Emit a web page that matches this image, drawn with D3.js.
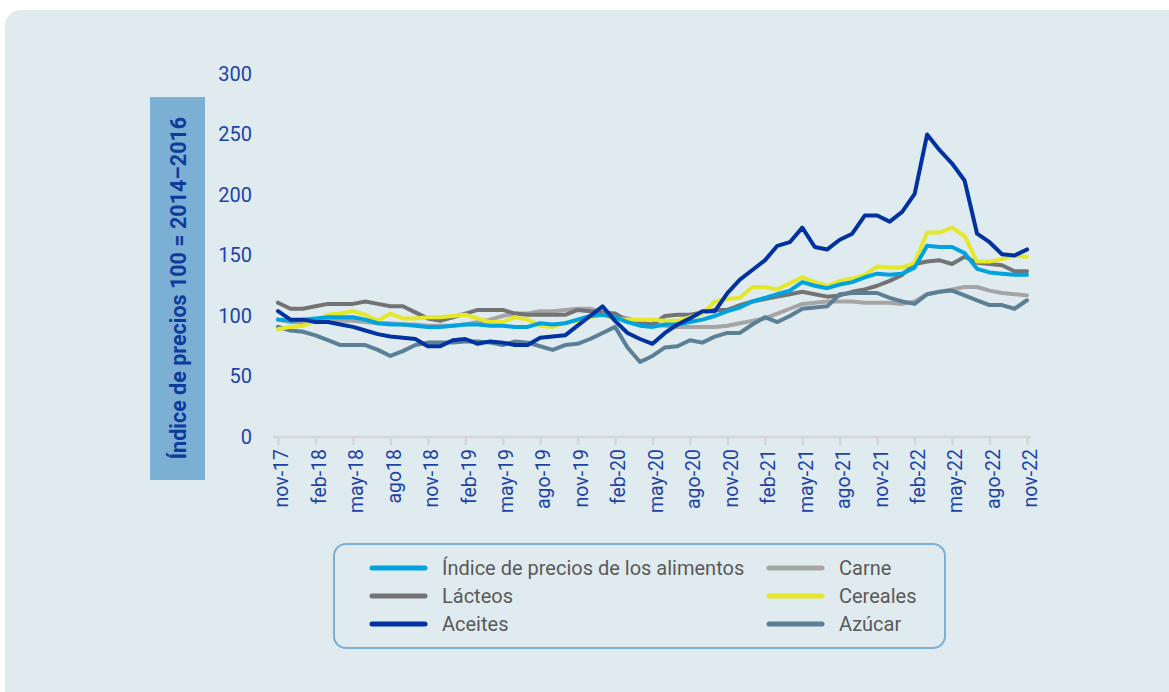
<!DOCTYPE html>
<html>
<head>
<meta charset="utf-8">
<script src="https://cdn.jsdelivr.net/npm/d3@7"></script>
<style>
  body { margin: 0; background: #ffffff; }
  svg { display: block; }
  text { font-family: Roboto, "Noto Sans", sans-serif; }
</style>
</head>
<body>
<div id="chart-area"></div>
<script>
// monthly categories nov-17 .. nov-22
const months = ["nov-17","dic-17","ene-18","feb-18","mar-18","abr-18","may-18","jun-18","jul-18","ago18","sep-18","oct-18",
  "nov-18","dic-18","ene-19","feb-19","mar-19","abr-19","may-19","jun-19","jul-19","ago-19","sep-19","oct-19",
  "nov-19","dic-19","ene-20","feb-20","mar-20","abr-20","may-20","jun-20","jul-20","ago-20","sep-20","oct-20",
  "nov-20","dic-20","ene-21","feb-21","mar-21","abr-21","may-21","jun-21","jul-21","ago-21","sep-21","oct-21",
  "nov-21","dic-21","ene-22","feb-22","mar-22","abr-22","may-22","jun-22","jul-22","ago-22","sep-22","oct-22","nov-22"];

const tickLabels = ["nov-17","feb-18","may-18","ago18","nov-18","feb-19","may-19","ago-19","nov-19","feb-20","may-20",
  "ago-20","nov-20","feb-21","may-21","ago-21","nov-21","feb-22","may-22","ago-22","nov-22"];

const yTicks = [0, 50, 100, 150, 200, 250, 300];

const indice = [97,96,97,98,99,99,99,97,94,93,93,92,91,91,92,93,93,92,92,91,91,94,93,94,97,100,101,99,95,92,91,93,93,95,97,100,
  104,107,112,115,118,121,128,125,123,126,128,132,135,134,135,140,158,157,157,152,139,136,135,134,134];
const lacteos = [111,106,106,108,110,110,110,112,110,108,108,103,98,96,99,102,105,105,105,102,101,101,101,101,105,104,103,102,96,94,93,100,101,101,103,105,
  105,109,112,114,116,118,120,118,116,117,120,122,125,129,134,143,145,146,143,149,144,143,142,137,137];
const aceites = [104,97,97,95,95,93,91,88,85,83,82,81,75,75,80,81,77,79,78,76,76,82,83,84,92,100,108,96,86,81,77,86,93,98,104,104,
  119,130,138,146,158,161,173,157,155,163,168,183,183,178,186,201,250,237,226,212,168,161,151,150,155];
const carne = [97,95,95,95,96,96,96,95,94,94,93,93,92,92,92,93,95,97,100,102,102,104,104,105,106,106,103,100,98,95,93,92,91,91,91,91,
  92,94,96,98,102,106,110,111,112,112,112,111,111,111,110,112,118,120,122,124,124,121,119,118,117];
const cereales = [89,91,92,96,101,102,104,101,96,102,98,98,99,99,100,101,98,95,95,99,97,92,91,94,96,99,101,98,97,97,97,96,96,99,102,112,
  114,115,124,124,122,127,132,128,125,129,131,134,141,140,140,144,169,169,173,166,145,145,147,150,149];
const azucar = [91,88,87,84,80,76,76,76,72,67,71,76,78,78,78,79,79,78,76,79,78,75,72,76,77,81,86,91,74,62,67,74,75,80,78,83,
  86,86,93,99,95,100,106,107,108,118,119,119,119,115,112,110,118,120,121,117,113,109,109,106,113];

const seriesNames = ["Índice de precios de los alimentos","Lácteos","Aceites","Carne","Cereales","Azúcar"];
const seriesColors = ["#00a3e0","#737373","#0033a1","#a5a5a5","#e4e828","#5b7f95"];
const seriesValues = [indice, lacteos, aceites, carne, cereales, azucar];

const W = 1169, H = 692;
const svg = d3.select("#chart-area").append("svg")
  .attr("width", W).attr("height", H);

// card background
svg.append("rect")
  .attr("x", 5).attr("y", 10)
  .attr("width", W + 20).attr("height", H + 20)
  .attr("rx", 16)
  .attr("fill", "#e0ebf0");

const x = d3.scaleLinear().domain([0, months.length - 1]).range([278, 1027]);
const y = d3.scaleLinear().domain([0, 300]).range([437, 74]);

// y title box
svg.append("rect")
  .attr("x", 150).attr("y", 97)
  .attr("width", 55).attr("height", 383)
  .attr("fill", "#7bafd4");
svg.append("text")
  .attr("transform", "translate(186,288) rotate(-90)")
  .attr("text-anchor", "middle")
  .attr("font-size", 21.5)
  .attr("font-weight", 700)
  .attr("fill", "#0e3a99")
  .text("Índice de precios 100 = 2014–2016");

// y axis labels only
const yAxis = d3.axisLeft(y).tickValues(yTicks).tickSize(0).tickPadding(0);
const gy = svg.append("g").attr("transform", "translate(252,0)").call(yAxis);
gy.select(".domain").remove();
gy.selectAll("text")
  .attr("font-family", "Roboto, sans-serif")
  .attr("font-size", 20)
  .attr("font-weight", 400)
  .attr("fill", "#1d43a6");

// x axis
const tickIdx = tickLabels.map((d, i) => i * 3);
const xAxis = d3.axisBottom(x).tickValues(tickIdx).tickSize(8)
  .tickFormat((d, i) => tickLabels[i]);
const gx = svg.append("g").attr("transform", "translate(0,437)").call(xAxis);
gx.select(".domain")
  .attr("d", "M273,0H1031")
  .attr("stroke", "#d6d6d6").attr("stroke-width", 2.5);
gx.selectAll(".tick line").attr("stroke", "#d6d6d6").attr("stroke-width", 2.5);
gx.selectAll(".tick text")
  .attr("font-family", "Roboto, sans-serif")
  .attr("font-size", 19.5)
  .attr("font-weight", 400)
  .attr("fill", "#1d43a6")
  .attr("text-anchor", "end")
  .attr("transform", "rotate(-90)")
  .attr("x", -12).attr("y", 3).attr("dy", "0.35em");

// lines
const line = d3.line()
  .x((d, i) => x(i))
  .y(d => y(d));

const drawOrder = [3, 1, 5, 4, 0, 2];
drawOrder.forEach(k => {
  svg.append("path")
    .datum(seriesValues[k])
    .attr("d", line)
    .attr("fill", "none")
    .attr("stroke", seriesColors[k])
    .attr("stroke-width", 4)
    .attr("stroke-linejoin", "round")
    .attr("stroke-linecap", "round");
});

// legend
svg.append("rect")
  .attr("x", 334).attr("y", 544)
  .attr("width", 611).attr("height", 104)
  .attr("rx", 12)
  .attr("fill", "none")
  .attr("stroke", "#7bafd4")
  .attr("stroke-width", 2);

const legendPos = [[372, 568],[372, 596],[372, 624],[769, 568],[769, 596],[769, 624]];
seriesNames.forEach((name, k) => {
  const [lx, ly] = legendPos[k];
  svg.append("line")
    .attr("x1", lx).attr("x2", lx + 53)
    .attr("y1", ly).attr("y2", ly)
    .attr("stroke", seriesColors[k])
    .attr("stroke-width", 5)
    .attr("stroke-linecap", "round");
  svg.append("text")
    .attr("x", lx + 70).attr("y", ly)
    .attr("dy", "0.35em")
    .attr("font-size", 20)
    .attr("fill", "#595959")
    .text(name);
});
</script>
</body>
</html>
